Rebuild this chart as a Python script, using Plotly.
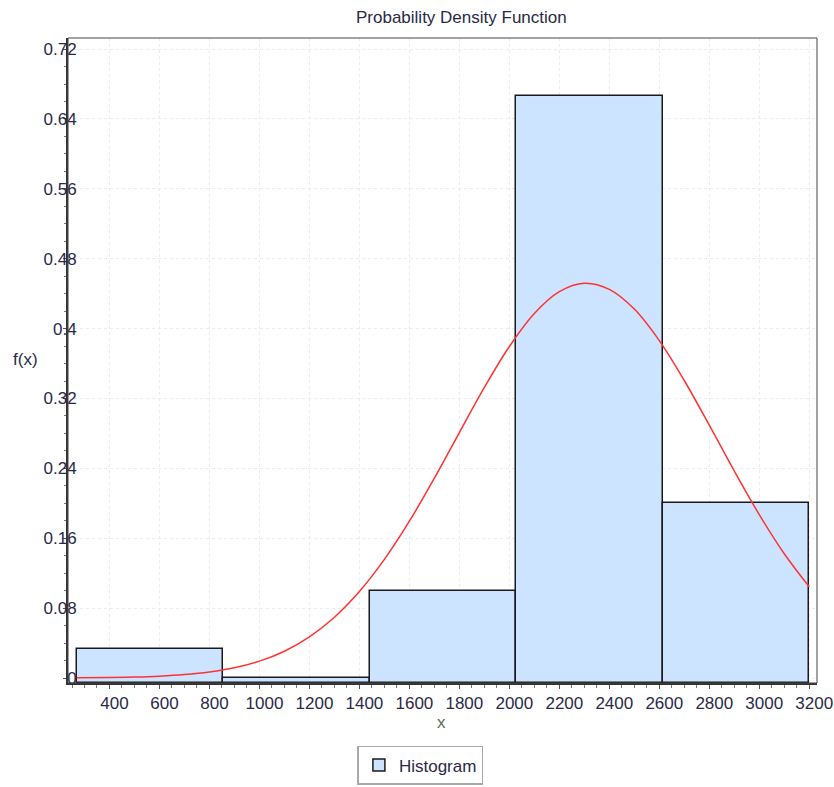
import plotly.graph_objects as go

# ---- data ----
BIN_EDGES = [268, 854.4, 1440.8, 2027.2, 2613.6, 3200]
BIN_FREQ = [0.0333, 0.0, 0.1, 0.6667, 0.2]

CURVE_X = [268, 400, 500, 600, 700, 800, 900, 1000, 1100, 1200, 1300, 1400,
           1500, 1600, 1700, 1800, 1900, 2000, 2100, 2200, 2300, 2400, 2500,
           2600, 2700, 2800, 2900, 3000, 3100, 3200]
CURVE_Y = [0.0002, 0.0006, 0.0011, 0.0021, 0.0039, 0.0069, 0.0117, 0.0193,
           0.0307, 0.0471, 0.0696, 0.0990, 0.1358, 0.1795, 0.2288, 0.2810,
           0.3326, 0.3795, 0.4174, 0.4424, 0.4520, 0.4450, 0.4224, 0.3863,
           0.3406, 0.2894, 0.2370, 0.1871, 0.1423, 0.1044]

Y_TICKS = [0, 0.08, 0.16, 0.24, 0.32, 0.4, 0.48, 0.56, 0.64, 0.72]
Y_TICK_LABELS = ["0", "0.08", "0.16", "0.24", "0.32", "0.4", "0.48", "0.56", "0.64", "0.72"]
X_TICKS = [400, 600, 800, 1000, 1200, 1400, 1600, 1800, 2000, 2200, 2400,
           2600, 2800, 3000, 3200]
X_TICK_LABELS = [str(v) for v in X_TICKS]

X_RANGE = [234, 3231]
Y_RANGE = [-0.0057, 0.7327]

TITLE = "Probability Density Function"
X_TITLE = "x"
Y_TITLE = "f(x)"
LEGEND_NAME = "Histogram"

FONT = "Liberation Sans, Arial, sans-serif"
TEXT_COLOR = "#2a2a48"

centers = [(a + b) / 2 for a, b in zip(BIN_EDGES[:-1], BIN_EDGES[1:])]
widths = [b - a for a, b in zip(BIN_EDGES[:-1], BIN_EDGES[1:])]
base = Y_RANGE[0]

fig = go.Figure()
fig.add_trace(go.Bar(
    x=centers, y=[v - base for v in BIN_FREQ], base=[base] * len(BIN_FREQ),
    width=widths, name=LEGEND_NAME,
    marker=dict(color="rgb(204,228,255)", line=dict(color="#1a1a1a", width=1.5)),
    showlegend=True,
))
fig.add_trace(go.Scatter(
    x=CURVE_X, y=CURVE_Y, mode="lines", line=dict(color="rgb(255,50,50)", width=1.5, shape="spline"),
    showlegend=False,
))

fig.update_layout(
    width=834, height=787,
    margin=dict(l=67.5, r=17.3, t=37.7, b=103.7, autoexpand=False),
    paper_bgcolor="white", plot_bgcolor="white",
    font=dict(family=FONT, size=17, color=TEXT_COLOR),
    bargap=0,
    showlegend=True,
    legend=dict(
        x=0.3864, y=-0.158, xanchor="left", yanchor="bottom",
        bordercolor="#aaaaaa", borderwidth=1.5, bgcolor="white",
        font=dict(size=17, color=TEXT_COLOR, family=FONT),
        itemwidth=30, tracegroupgap=0,
    ),
    shapes=[dict(type="rect", xref="paper", yref="paper", x0=0, x1=1, y0=0, y1=1,
                 line=dict(color="#444444", width=1), layer="above")],
    annotations=[
        dict(text=TITLE, xref="paper", yref="paper", x=0.525, y=1, yshift=21,
             xanchor="center", yanchor="middle", showarrow=False,
             font=dict(size=17, color=TEXT_COLOR, family=FONT)),
        dict(text=Y_TITLE, xref="paper", yref="paper", x=0, xshift=-43, y=0.5, yshift=1,
             xanchor="center", yanchor="middle", showarrow=False,
             font=dict(size=17, color=TEXT_COLOR, family=FONT)),
        dict(text=X_TITLE, xref="paper", yref="paper", x=0.498, y=0, yshift=-39,
             xanchor="center", yanchor="middle", showarrow=False,
             font=dict(size=17, color="#5a7050", family=FONT)),
    ],
)

fig.update_xaxes(
    range=X_RANGE, tickvals=X_TICKS, ticktext=X_TICK_LABELS, automargin=False,
    showline=True, linecolor="#333333", linewidth=2,
    ticks="outside", ticklen=4, tickcolor="#555555", tickwidth=1,
    minor=dict(dtick=50, tick0=0, ticks="outside", ticklen=3, tickcolor="#777777", showgrid=False),
    showgrid=True, gridcolor="#ececec", griddash="dot", gridwidth=1,
    zeroline=False, ticklabelshift=5,
    tickfont=dict(size=17, color=TEXT_COLOR, family=FONT),
)
fig.update_yaxes(
    range=Y_RANGE, tickvals=Y_TICKS, ticktext=Y_TICK_LABELS, automargin=False,
    showline=True, linecolor="#333333", linewidth=2,
    ticks="outside", ticklen=3, tickcolor="#555555", tickwidth=1,
    minor=dict(dtick=0.02, tick0=0, ticks="outside", ticklen=2, tickcolor="#777777", showgrid=False),
    showgrid=True, gridcolor="#ececec", griddash="dot", gridwidth=1,
    zeroline=False, ticklabelstandoff=-17,
    tickfont=dict(size=17, color=TEXT_COLOR, family=FONT),
)

fig.write_html("out.html", config={"displayModeBar": False},
               post_script="document.body.style.margin='0';document.body.style.overflow='hidden';")
